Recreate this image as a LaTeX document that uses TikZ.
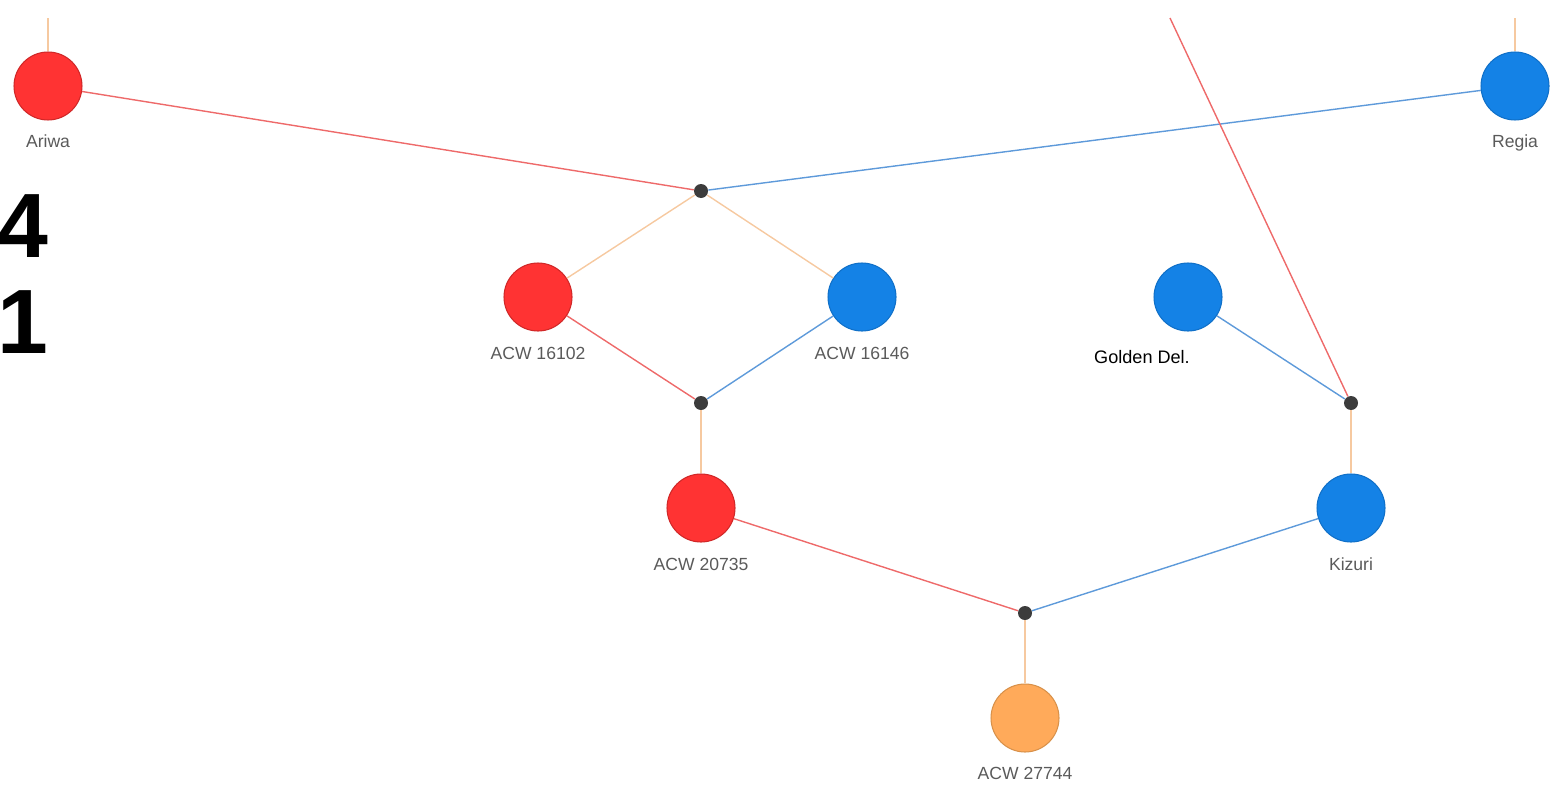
\documentclass[tikz,border=0pt]{standalone}
\usepackage{fontspec}
\setmainfont{Liberation Sans}
\definecolor{nred}{HTML}{FF3333}
\definecolor{nredd}{HTML}{D02828}
\definecolor{nblue}{HTML}{1482E6}
\definecolor{nblued}{HTML}{1070C8}
\definecolor{norange}{HTML}{FFAA5A}
\definecolor{norangeD}{HTML}{D8914A}
\definecolor{ered}{HTML}{EE6A6A}
\definecolor{eblue}{HTML}{5E9ADA}
\definecolor{eorange}{HTML}{F6C9A0}
\definecolor{jdot}{HTML}{3C3C3C}
\definecolor{lab}{HTML}{5A5A5A}
\tikzset{
  x=0.02cm, y=-0.02cm,
  plant/.style={circle, minimum size=1.36cm, inner sep=0pt, line width=0.6pt},
  rednode/.style={plant, fill=nred, draw=nredd},
  bluenode/.style={plant, fill=nblue, draw=nblued},
  orangenode/.style={plant, fill=norange, draw=norangeD},
  junc/.style={circle, minimum size=0.28cm, inner sep=0pt, fill=jdot},
  lbl/.style={text=lab, font=\fontsize{10}{12}\selectfont, inner sep=0pt, anchor=base},
  redline/.style={draw=ered, line width=0.8pt},
  blueline/.style={draw=eblue, line width=0.8pt},
  orangeline/.style={draw=eorange, line width=0.8pt},
}
\begin{document}
\begin{tikzpicture}
\useasboundingbox (0,0) rectangle (1562,788);
% nodes
\node[rednode] (ariwa) at (48,86) {};
\node[bluenode] (regia) at (1515,86) {};
\node[junc] (j1) at (701,191) {};
\node[rednode] (a16102) at (538,297) {};
\node[bluenode] (a16146) at (862,297) {};
\node[bluenode] (golden) at (1188,297) {};
\node[junc] (j2) at (701,403) {};
\node[junc] (j3) at (1351,403) {};
\node[rednode] (a20735) at (701,508) {};
\node[bluenode] (kizuri) at (1351,508) {};
\node[junc] (j4) at (1025,613) {};
\node[orangenode] (a27744) at (1025,718) {};
\coordinate (ariwatop) at (48,18);
\coordinate (regiatop) at (1515,18);
\coordinate (redtop) at (1170,18);
% edges
\path[orangeline] (ariwatop) -- (ariwa);
\path[orangeline] (regiatop) -- (regia);
\path[redline] (ariwa) -- (j1);
\path[blueline] (regia) -- (j1);
\path[orangeline] (j1) -- (a16102);
\path[orangeline] (j1) -- (a16146);
\path[redline] (a16102) -- (j2);
\path[blueline] (a16146) -- (j2);
\path[orangeline] (j2) -- (a20735);
\path[redline] (redtop) -- (j3);
\path[blueline] (golden) -- (j3);
\path[orangeline] (j3) -- (kizuri);
\path[redline] (a20735) -- (j4);
\path[blueline] (kizuri) -- (j4);
\path[orangeline] (j4) -- (a27744);
% labels
\node[lbl] (lariwa) at (48,147) {Ariwa};
\node[lbl] (lregia) at (1515,147) {Regia};
\node[lbl] (l16102) at (538,359) {ACW 16102};
\node[lbl] (l16146) at (862,359) {ACW 16146};
\node[lbl, text=black, font=\fontsize{10.3}{12}\selectfont] (lgolden) at (1142,363) {Golden Del.};
\node[lbl] (l20735) at (701,570) {ACW 20735};
\node[lbl] (lkizuri) at (1351,570) {Kizuri};
\node[lbl] (l27744) at (1025,779) {ACW 27744};
\node[inner sep=0pt, anchor=west, font=\fontsize{52}{60}\selectfont\bfseries] (n4) at (-3,226) {4};
\node[inner sep=0pt, anchor=west, font=\fontsize{52}{60}\selectfont\bfseries] (n1) at (-3,322) {1};
\end{tikzpicture}
\end{document}
